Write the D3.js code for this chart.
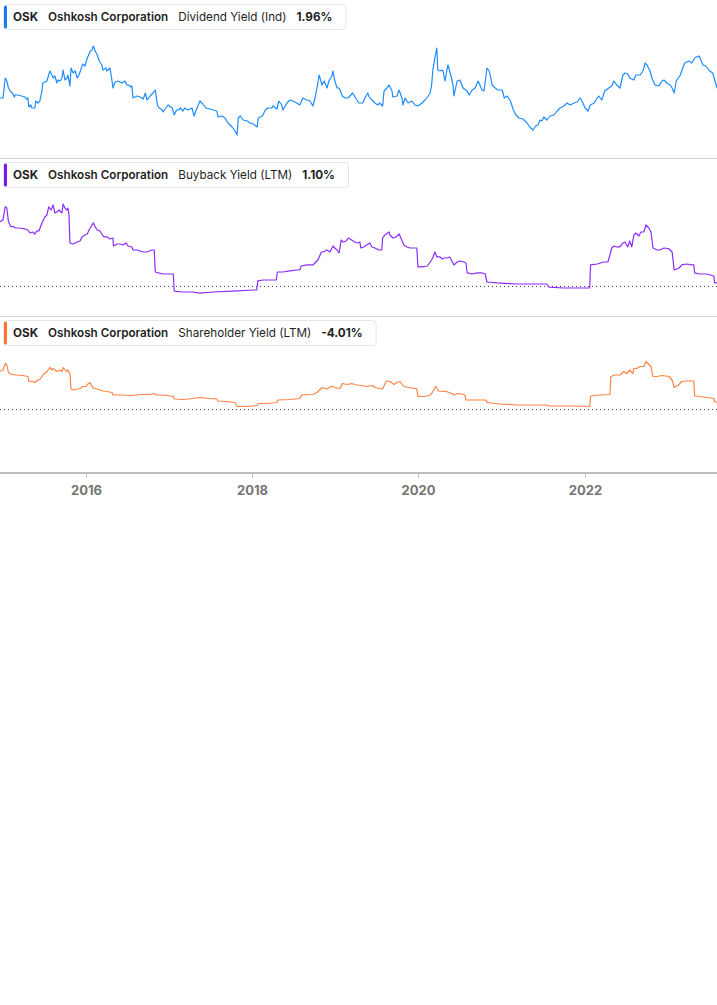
<!DOCTYPE html>
<html>
<head>
<meta charset="utf-8">
<script src="https://cdn.jsdelivr.net/npm/d3@7"></script>
<style>
  html, body { margin: 0; padding: 0; background: #fff; }
  svg { display: block; font-family: Inter, "Noto Sans", sans-serif; }
</style>
</head>
<body>
<svg id="chart" width="717" height="1005"></svg>
<script>
// date range shown on the x axis
const dateRange = ['2014-12-21', '2023-08-04'];
const tickYears = [2016, 2018, 2020, 2022];

// Dividend Yield (Ind), %
const dividendYield = [
  ['2014-12-21', 1.74], ['2015-01-03', 1.74], ['2015-01-13', 2.14], ['2015-01-20', 2.08], ['2015-01-27', 1.94],
  ['2015-02-04', 1.88], ['2015-02-16', 1.82], ['2015-02-22', 1.76], ['2015-02-26', 1.80], ['2015-03-09', 1.80],
  ['2015-03-26', 1.78], ['2015-04-09', 1.76], ['2015-04-18', 1.72], ['2015-04-22', 1.74], ['2015-04-27', 1.56],
  ['2015-05-05', 1.60], ['2015-05-10', 1.54], ['2015-05-23', 1.54], ['2015-05-27', 1.68], ['2015-06-05', 1.64],
  ['2015-06-14', 1.68], ['2015-06-23', 1.88], ['2015-06-27', 2.04], ['2015-07-15', 2.08], ['2015-07-28', 2.28],
  ['2015-08-06', 2.20], ['2015-08-11', 2.14], ['2015-08-19', 2.18], ['2015-08-28', 2.04], ['2015-09-02', 2.10],
  ['2015-09-11', 2.08], ['2015-09-19', 2.14], ['2015-09-24', 2.30], ['2015-10-02', 2.10], ['2015-10-11', 2.14],
  ['2015-10-15', 2.20], ['2015-10-24', 1.98], ['2015-10-29', 2.34], ['2015-11-07', 2.24], ['2015-11-16', 2.28],
  ['2015-11-25', 2.14], ['2015-12-03', 2.20], ['2015-12-16', 2.38], ['2015-12-20', 2.42], ['2015-12-29', 2.38],
  ['2016-01-08', 2.54], ['2016-01-12', 2.58], ['2016-01-21', 2.68], ['2016-01-29', 2.70], ['2016-02-04', 2.78],
  ['2016-02-12', 2.68], ['2016-02-21', 2.60], ['2016-02-28', 2.50], ['2016-03-12', 2.40], ['2016-03-17', 2.30],
  ['2016-03-30', 2.34], ['2016-04-04', 2.28], ['2016-04-17', 2.34], ['2016-04-26', 2.08], ['2016-04-30', 1.94],
  ['2016-05-09', 2.06], ['2016-05-22', 2.08], ['2016-06-09', 2.04], ['2016-06-22', 2.08], ['2016-06-30', 2.00],
  ['2016-07-09', 2.00], ['2016-07-18', 1.96], ['2016-07-22', 1.98], ['2016-07-27', 1.74], ['2016-08-14', 1.78],
  ['2016-08-27', 1.76], ['2016-09-10', 1.72], ['2016-09-19', 1.84], ['2016-09-27', 1.70], ['2016-10-10', 1.78],
  ['2016-10-23', 1.84], ['2016-11-02', 1.90], ['2016-11-11', 1.60], ['2016-11-19', 1.54], ['2016-12-02', 1.50],
  ['2016-12-06', 1.46], ['2016-12-15', 1.52], ['2016-12-28', 1.60], ['2017-01-15', 1.54], ['2017-01-24', 1.40],
  ['2017-02-03', 1.50], ['2017-02-11', 1.50], ['2017-02-20', 1.54], ['2017-03-03', 1.48], ['2017-03-11', 1.54],
  ['2017-03-25', 1.50], ['2017-04-12', 1.54], ['2017-04-21', 1.38], ['2017-05-04', 1.54], ['2017-05-17', 1.68],
  ['2017-05-30', 1.62], ['2017-06-12', 1.54], ['2017-06-30', 1.52], ['2017-07-13', 1.50], ['2017-07-30', 1.48],
  ['2017-08-04', 1.36], ['2017-08-22', 1.38], ['2017-09-04', 1.34], ['2017-09-17', 1.24], ['2017-10-05', 1.16],
  ['2017-10-18', 1.08], ['2017-10-27', 1.00], ['2017-11-01', 1.34], ['2017-11-10', 1.38], ['2017-11-23', 1.30],
  ['2017-12-10', 1.28], ['2017-12-23', 1.24], ['2018-01-06', 1.22], ['2018-01-23', 1.16], ['2018-01-28', 1.34],
  ['2018-02-15', 1.38], ['2018-02-28', 1.50], ['2018-03-11', 1.54], ['2018-03-28', 1.54], ['2018-04-02', 1.58],
  ['2018-04-20', 1.52], ['2018-04-28', 1.68], ['2018-05-11', 1.60], ['2018-05-16', 1.50], ['2018-06-03', 1.64],
  ['2018-06-16', 1.70], ['2018-06-29', 1.68], ['2018-07-16', 1.64], ['2018-07-29', 1.60], ['2018-08-12', 1.74],
  ['2018-08-29', 1.70], ['2018-09-12', 1.68], ['2018-09-25', 1.58], ['2018-10-04', 1.74], ['2018-10-13', 1.94],
  ['2018-10-22', 2.20], ['2018-11-04', 2.00], ['2018-11-13', 2.08], ['2018-11-26', 1.94], ['2018-12-04', 2.08],
  ['2018-12-17', 2.18], ['2018-12-22', 2.28], ['2018-12-30', 2.08], ['2019-01-09', 1.94], ['2019-01-18', 1.94],
  ['2019-02-01', 1.78], ['2019-02-14', 1.74], ['2019-02-27', 1.74], ['2019-03-10', 1.80], ['2019-03-18', 1.84],
  ['2019-04-06', 1.70], ['2019-04-15', 1.64], ['2019-05-02', 1.64], ['2019-05-11', 1.74], ['2019-05-24', 1.84],
  ['2019-05-28', 1.78], ['2019-06-11', 1.70], ['2019-06-24', 1.64], ['2019-07-07', 1.60], ['2019-07-15', 1.64],
  ['2019-07-28', 1.58], ['2019-08-03', 1.88], ['2019-08-16', 1.94], ['2019-08-25', 2.00], ['2019-09-07', 1.88],
  ['2019-09-11', 1.76], ['2019-09-29', 1.78], ['2019-10-08', 1.90], ['2019-10-21', 1.74], ['2019-10-25', 1.60],
  ['2019-11-04', 1.74], ['2019-11-17', 1.64], ['2019-12-04', 1.68], ['2019-12-17', 1.60], ['2019-12-30', 1.58],
  ['2020-01-17', 1.64], ['2020-01-30', 1.70], ['2020-02-13', 1.78], ['2020-02-22', 1.84], ['2020-02-28', 2.00],
  ['2020-03-04', 2.28], ['2020-03-13', 2.54], ['2020-03-22', 2.74], ['2020-03-26', 2.30], ['2020-04-05', 2.28],
  ['2020-04-14', 2.30], ['2020-04-18', 2.28], ['2020-04-27', 2.08], ['2020-05-05', 2.30], ['2020-05-10', 2.40],
  ['2020-05-23', 2.18], ['2020-06-01', 2.00], ['2020-06-05', 1.78], ['2020-06-19', 2.08], ['2020-07-01', 2.10],
  ['2020-07-15', 1.94], ['2020-08-02', 1.88], ['2020-08-11', 1.80], ['2020-08-24', 1.90], ['2020-09-06', 1.94],
  ['2020-09-19', 2.08], ['2020-10-07', 1.90], ['2020-10-15', 1.88], ['2020-10-28', 2.34], ['2020-11-07', 2.28],
  ['2020-11-20', 2.00], ['2020-12-03', 1.94], ['2020-12-16', 1.90], ['2021-01-03', 1.90], ['2021-01-12', 1.74],
  ['2021-01-25', 1.78], ['2021-02-08', 1.68], ['2021-02-21', 1.50], ['2021-03-04', 1.40], ['2021-03-17', 1.34],
  ['2021-04-04', 1.32], ['2021-04-22', 1.24], ['2021-05-04', 1.16], ['2021-05-18', 1.10], ['2021-05-30', 1.18],
  ['2021-06-09', 1.20], ['2021-06-18', 1.30], ['2021-06-26', 1.28], ['2021-07-05', 1.36], ['2021-07-18', 1.30],
  ['2021-08-01', 1.38], ['2021-08-18', 1.40], ['2021-09-01', 1.48], ['2021-09-14', 1.54], ['2021-10-01', 1.58],
  ['2021-10-15', 1.64], ['2021-10-28', 1.60], ['2021-11-15', 1.64], ['2021-11-28', 1.66], ['2021-12-11', 1.74],
  ['2021-12-19', 1.68], ['2022-01-02', 1.54], ['2022-01-15', 1.48], ['2022-01-24', 1.60], ['2022-02-11', 1.64],
  ['2022-02-24', 1.74], ['2022-03-03', 1.78], ['2022-03-16', 1.70], ['2022-03-29', 1.88], ['2022-04-16', 1.94],
  ['2022-04-29', 1.98], ['2022-05-08', 2.08], ['2022-05-21', 2.00], ['2022-06-04', 1.94], ['2022-06-17', 2.20],
  ['2022-06-26', 2.24], ['2022-07-08', 2.22], ['2022-07-17', 2.14], ['2022-08-04', 2.10], ['2022-08-13', 2.20],
  ['2022-09-01', 2.20], ['2022-09-13', 2.28], ['2022-09-22', 2.44], ['2022-10-01', 2.40], ['2022-10-14', 2.28],
  ['2022-10-22', 2.14], ['2022-11-05', 2.00], ['2022-11-23', 1.98], ['2022-12-05', 2.08], ['2022-12-14', 2.10],
  ['2022-12-27', 2.04], ['2023-01-10', 2.00], ['2023-01-19', 1.94], ['2023-01-28', 1.84], ['2023-02-06', 2.08],
  ['2023-02-24', 2.20], ['2023-03-02', 2.28], ['2023-03-15', 2.44], ['2023-04-02', 2.48], ['2023-04-15', 2.44],
  ['2023-04-28', 2.54], ['2023-05-16', 2.58], ['2023-05-20', 2.56], ['2023-06-03', 2.40], ['2023-06-16', 2.38],
  ['2023-07-03', 2.28], ['2023-07-16', 2.24], ['2023-07-25', 2.10], ['2023-08-04', 1.94]
];

// Buyback Yield (LTM), %
const buybackYield = [
  ['2014-12-21', 8.04], ['2015-01-03', 8.25], ['2015-01-13', 9.91], ['2015-01-20', 9.75], ['2015-01-27', 8.04],
  ['2015-02-07', 7.41], ['2015-02-19', 7.41], ['2015-02-26', 7.25], ['2015-03-17', 7.25], ['2015-04-09', 7.13],
  ['2015-04-22', 7.00], ['2015-05-01', 6.63], ['2015-05-14', 6.75], ['2015-05-23', 6.50], ['2015-06-01', 6.88],
  ['2015-06-10', 6.88], ['2015-06-23', 7.88], ['2015-07-06', 8.63], ['2015-07-15', 8.88], ['2015-07-23', 9.88],
  ['2015-08-02', 9.50], ['2015-08-11', 10.13], ['2015-08-19', 9.13], ['2015-08-28', 9.25], ['2015-09-06', 9.50],
  ['2015-09-19', 9.13], ['2015-09-24', 10.25], ['2015-10-02', 9.75], ['2015-10-11', 9.50], ['2015-10-15', 9.75],
  ['2015-10-20', 8.88], ['2015-10-24', 5.38], ['2015-11-07', 5.25], ['2015-11-25', 5.50], ['2015-12-07', 5.63],
  ['2015-12-16', 6.13], ['2015-12-29', 6.38], ['2016-01-08', 6.50], ['2016-01-16', 7.00], ['2016-01-29', 7.63],
  ['2016-02-04', 7.88], ['2016-02-12', 7.38], ['2016-02-21', 7.00], ['2016-03-04', 6.88], ['2016-03-12', 6.50],
  ['2016-03-21', 6.13], ['2016-04-04', 6.13], ['2016-04-17', 5.88], ['2016-04-30', 6.00], ['2016-05-02', 5.00],
  ['2016-05-18', 5.25], ['2016-05-30', 5.25], ['2016-06-13', 5.13], ['2016-06-26', 5.38], ['2016-07-05', 5.00],
  ['2016-07-22', 4.88], ['2016-07-27', 4.50], ['2016-08-14', 4.50], ['2016-08-27', 4.38], ['2016-09-10', 4.25],
  ['2016-09-27', 4.25], ['2016-10-06', 4.38], ['2016-10-19', 4.50], ['2016-10-28', 4.50], ['2016-11-02', 1.75],
  ['2016-11-15', 1.63], ['2016-12-06', 1.50], ['2017-01-07', 1.50], ['2017-01-20', 1.50], ['2017-01-24', -0.63],
  ['2017-03-03', -0.75], ['2017-04-16', -0.75], ['2017-05-17', -0.88], ['2017-07-13', -0.75], ['2017-10-09', -0.63],
  ['2018-01-06', -0.50], ['2018-01-21', -0.50], ['2018-01-26', 0.63], ['2018-02-19', 0.75], ['2018-03-19', 0.75],
  ['2018-04-17', 0.75], ['2018-04-22', 1.75], ['2018-05-16', 1.75], ['2018-06-16', 1.88], ['2018-07-16', 2.00],
  ['2018-07-29', 2.00], ['2018-08-04', 2.50], ['2018-08-29', 2.63], ['2018-09-25', 2.63], ['2018-10-08', 3.00],
  ['2018-10-17', 3.25], ['2018-11-01', 4.25], ['2018-11-09', 4.25], ['2018-11-26', 4.50], ['2018-12-09', 4.25],
  ['2018-12-22', 5.00], ['2018-12-30', 4.75], ['2019-01-09', 4.50], ['2019-01-18', 4.13], ['2019-01-27', 5.75],
  ['2019-02-05', 5.50], ['2019-02-18', 5.63], ['2019-02-27', 6.00], ['2019-03-14', 5.75], ['2019-03-27', 5.50],
  ['2019-04-10', 5.38], ['2019-04-19', 5.50], ['2019-04-23', 4.75], ['2019-05-06', 4.88], ['2019-05-19', 5.13],
  ['2019-06-02', 5.38], ['2019-06-11', 4.88], ['2019-06-24', 4.75], ['2019-07-11', 4.50], ['2019-07-24', 4.50],
  ['2019-07-28', 6.00], ['2019-08-07', 6.38], ['2019-08-25', 6.75], ['2019-08-29', 6.38], ['2019-09-11', 6.00],
  ['2019-09-25', 6.13], ['2019-10-08', 6.50], ['2019-10-16', 6.00], ['2019-10-29', 5.13], ['2019-11-12', 4.88],
  ['2019-11-25', 4.75], ['2019-12-12', 4.75], ['2019-12-25', 4.75], ['2019-12-30', 2.38], ['2020-01-17', 2.38],
  ['2020-02-09', 2.50], ['2020-02-22', 3.00], ['2020-03-04', 3.50], ['2020-03-13', 4.25], ['2020-03-22', 3.63],
  ['2020-04-05', 3.63], ['2020-04-14', 3.38], ['2020-04-22', 3.50], ['2020-05-05', 3.50], ['2020-05-18', 3.63],
  ['2020-05-27', 3.13], ['2020-06-05', 2.63], ['2020-06-19', 3.00], ['2020-07-01', 3.13], ['2020-07-19', 3.00],
  ['2020-07-28', 2.88], ['2020-08-02', 1.63], ['2020-08-24', 1.50], ['2020-09-15', 1.63], ['2020-10-07', 1.63],
  ['2020-10-20', 1.50], ['2020-10-28', 0.50], ['2020-12-11', 0.38], ['2021-03-08', 0.25], ['2021-06-04', 0.25],
  ['2021-07-18', 0.25], ['2021-07-27', -0.13], ['2021-10-01', -0.25], ['2021-11-28', -0.25], ['2022-01-22', -0.25],
  ['2022-01-26', 2.63], ['2022-02-24', 2.75], ['2022-03-25', 3.00], ['2022-04-12', 3.00], ['2022-04-21', 3.88],
  ['2022-04-29', 4.75], ['2022-05-08', 5.00], ['2022-05-21', 4.88], ['2022-06-04', 4.88], ['2022-06-17', 5.38],
  ['2022-06-26', 5.50], ['2022-07-08', 4.88], ['2022-07-17', 5.63], ['2022-07-26', 4.88], ['2022-08-04', 6.38],
  ['2022-08-13', 6.63], ['2022-08-26', 6.25], ['2022-09-04', 6.75], ['2022-09-17', 6.75], ['2022-09-26', 7.63],
  ['2022-10-09', 7.25], ['2022-10-18', 6.75], ['2022-10-27', 4.75], ['2022-11-14', 4.50], ['2022-11-27', 4.50],
  ['2022-12-14', 4.75], ['2023-01-06', 4.63], ['2023-01-19', 4.25], ['2023-01-28', 2.00], ['2023-02-19', 2.25],
  ['2023-03-02', 2.63], ['2023-03-24', 2.75], ['2023-04-15', 2.63], ['2023-04-24', 2.63], ['2023-04-28', 1.63],
  ['2023-05-20', 1.50], ['2023-06-20', 1.50], ['2023-07-21', 1.25], ['2023-07-25', 0.38], ['2023-08-04', 0.38]
];

// Shareholder Yield (LTM), %
const shareholderYield = [
  ['2014-12-21', 7.5], ['2015-01-03', 7.8], ['2015-01-13', 9.1], ['2015-01-20', 8.8], ['2015-01-27', 7.3],
  ['2015-02-12', 6.9], ['2015-03-03', 6.8], ['2015-03-31', 6.7], ['2015-04-22', 6.5], ['2015-04-27', 5.5],
  ['2015-05-14', 5.5], ['2015-05-23', 5.3], ['2015-06-05', 5.8], ['2015-06-14', 5.9], ['2015-06-27', 6.8],
  ['2015-07-15', 7.5], ['2015-07-28', 8.3], ['2015-08-06', 7.8], ['2015-08-11', 8.1], ['2015-08-28', 7.5],
  ['2015-09-11', 7.8], ['2015-09-19', 7.5], ['2015-09-24', 8.3], ['2015-10-02', 7.8], ['2015-10-11', 7.5],
  ['2015-10-15', 7.8], ['2015-10-24', 7.1], ['2015-10-29', 4.0], ['2015-11-07', 3.8], ['2015-11-25', 4.0],
  ['2015-12-07', 4.1], ['2015-12-20', 4.5], ['2016-01-03', 4.5], ['2016-01-08', 4.9], ['2016-01-21', 5.3],
  ['2016-01-29', 4.5], ['2016-02-08', 4.1], ['2016-02-21', 4.0], ['2016-03-04', 3.8], ['2016-03-17', 3.6],
  ['2016-04-04', 3.5], ['2016-04-26', 3.3], ['2016-04-30', 2.8], ['2016-05-18', 2.8], ['2016-06-13', 2.8],
  ['2016-07-14', 2.7], ['2016-08-14', 2.8], ['2016-09-10', 2.9], ['2016-10-10', 2.9], ['2016-10-28', 3.1],
  ['2016-11-06', 2.8], ['2016-11-23', 2.8], ['2016-12-24', 2.7], ['2017-01-20', 2.5], ['2017-01-24', 2.0],
  ['2017-03-03', 1.9], ['2017-04-16', 2.1], ['2017-05-17', 2.3], ['2017-06-30', 2.1], ['2017-07-30', 2.0],
  ['2017-08-04', 1.6], ['2017-09-13', 1.5], ['2017-10-18', 1.3], ['2017-10-27', 0.5], ['2017-12-10', 0.5],
  ['2018-01-23', 0.7], ['2018-01-28', 1.1], ['2018-03-06', 1.1], ['2018-04-20', 1.3], ['2018-04-24', 1.8],
  ['2018-06-16', 1.9], ['2018-07-29', 2.1], ['2018-08-07', 2.8], ['2018-09-25', 2.9], ['2018-10-13', 3.3],
  ['2018-11-04', 4.3], ['2018-11-26', 4.0], ['2018-12-17', 4.6], ['2018-12-30', 4.3], ['2019-01-22', 4.1],
  ['2019-02-01', 5.1], ['2019-02-23', 4.9], ['2019-03-14', 5.1], ['2019-04-06', 4.8], ['2019-04-28', 4.7],
  ['2019-05-19', 4.5], ['2019-06-15', 4.7], ['2019-06-24', 4.3], ['2019-07-15', 4.1], ['2019-07-28', 4.0],
  ['2019-08-12', 5.5], ['2019-08-16', 5.6], ['2019-08-29', 5.5], ['2019-09-16', 4.9], ['2019-09-29', 5.3],
  ['2019-10-12', 5.5], ['2019-10-29', 4.5], ['2019-11-21', 4.3], ['2019-12-12', 4.1], ['2019-12-25', 4.1],
  ['2019-12-30', 2.5], ['2020-01-26', 2.5], ['2020-02-17', 2.7], ['2020-02-28', 3.1], ['2020-03-17', 4.5],
  ['2020-03-30', 3.6], ['2020-04-14', 3.5], ['2020-04-27', 3.6], ['2020-05-14', 3.3], ['2020-05-27', 3.1],
  ['2020-06-05', 2.8], ['2020-06-19', 3.1], ['2020-07-10', 3.0], ['2020-07-23', 2.8], ['2020-07-28', 1.8],
  ['2020-09-02', 1.8], ['2020-09-28', 1.8], ['2020-10-24', 1.8], ['2020-10-28', 1.3], ['2020-12-25', 1.0],
  ['2021-03-08', 0.8], ['2021-07-18', 0.8], ['2021-07-27', 0.6], ['2021-10-28', 0.6], ['2022-01-22', 0.5],
  ['2022-01-26', 2.6], ['2022-03-07', 2.8], ['2022-04-21', 2.9], ['2022-04-25', 6.5], ['2022-05-12', 6.8],
  ['2022-06-04', 6.8], ['2022-06-21', 7.5], ['2022-07-04', 7.1], ['2022-07-17', 7.8], ['2022-07-30', 7.1],
  ['2022-08-04', 8.1], ['2022-08-17', 8.1], ['2022-08-30', 8.5], ['2022-09-17', 8.5], ['2022-09-26', 9.5],
  ['2022-10-09', 8.9], ['2022-10-18', 8.5], ['2022-10-27', 6.5], ['2022-11-14', 6.5], ['2022-12-05', 6.7],
  ['2023-01-06', 6.5], ['2023-01-19', 5.8], ['2023-01-28', 4.3], ['2023-02-15', 4.8], ['2023-03-02', 5.5],
  ['2023-03-24', 5.6], ['2023-04-24', 5.6], ['2023-04-28', 2.6], ['2023-05-20', 2.5], ['2023-06-20', 2.3],
  ['2023-07-21', 2.1], ['2023-07-25', 1.5], ['2023-08-04', 1.3]
];

const ticker = 'OSK';
const company = 'Oshkosh Corporation';
const metricNames = ['Dividend Yield (Ind)', 'Buyback Yield (LTM)', 'Shareholder Yield (LTM)'];
const latestValues = ['1.96%', '1.10%', '-4.01%'];

const width = 717;
const parseDate = d3.timeParse('%Y-%m-%d');
const svg = d3.select('#chart');

const x = d3.scaleTime()
  .domain(dateRange.map(parseDate))
  .range([0, width]);

// one entry per stacked panel
const panels = [
  { data: dividendYield, line: '#1e8cff', accent: '#1a7ef2', top: 0,
    y: d3.scaleLinear().domain([0, 3]).range([185, 35]), zero: false },
  { data: buybackYield, line: '#8c2cff', accent: '#7b14f0', top: 158,
    y: d3.scaleLinear().domain([0, 10]).range([286, 206]), zero: true },
  { data: shareholderYield, line: '#ff8445', accent: '#ff7433', top: 316,
    y: d3.scaleLinear().domain([0, 10]).range([409, 359]), zero: true }
];

panels.forEach((p, i) => {
  const g = svg.append('g').attr('class', 'panel');

  if (i > 0) {
    g.append('line')
      .attr('x1', 0).attr('x2', width)
      .attr('y1', p.top + 0.5).attr('y2', p.top + 0.5)
      .attr('stroke', '#cfcfcf');
  }

  if (p.zero) {
    g.append('line')
      .attr('x1', 0).attr('x2', width)
      .attr('y1', p.y(0) + 0.5).attr('y2', p.y(0) + 0.5)
      .attr('stroke', '#444')
      .attr('stroke-dasharray', '1,3');
  }

  const line = d3.line()
    .x((d) => x(parseDate(d[0])))
    .y((d) => p.y(d[1]));

  g.append('path')
    .datum(p.data)
    .attr('fill', 'none')
    .attr('stroke', p.line)
    .attr('stroke-width', 1.2)
    .attr('stroke-linejoin', 'round')
    .attr('d', line);

  // legend chip
  const lg = g.append('g').attr('transform', `translate(3,${p.top + 4})`);
  const box = lg.append('rect')
    .attr('x', 0.5).attr('y', 0.5)
    .attr('height', 25)
    .attr('rx', 3)
    .attr('fill', '#fff')
    .attr('stroke', '#e6e6e6');
  lg.append('rect')
    .attr('x', 1).attr('y', 1.5)
    .attr('width', 3).attr('height', 23)
    .attr('rx', 1.5)
    .attr('fill', p.accent);

  const parts = [
    { text: ticker, weight: 700 },
    { text: company, weight: 600 },
    { text: metricNames[i], weight: 400 },
    { text: latestValues[i], weight: 700 }
  ];
  let cx = 10;
  parts.forEach((part) => {
    const t = lg.append('text')
      .attr('x', cx).attr('y', 17)
      .attr('font-size', 11.7)
      .attr('font-weight', part.weight)
      .attr('fill', '#1f1f1f')
      .text(part.text);
    cx += t.node().getComputedTextLength() + 10;
  });
  box.attr('width', cx + 3);
});

// x axis
const axisY = 473;
const axis = svg.append('g').attr('transform', `translate(0,${axisY})`);
axis.append('line')
  .attr('x1', 0).attr('x2', width)
  .attr('y1', 0).attr('y2', 0)
  .attr('stroke', '#bdbdbd')
  .attr('stroke-width', 2);

const ticks = axis.selectAll('g.tick')
  .data(tickYears.map((yr) => new Date(yr, 0, 1)))
  .enter()
  .append('g')
  .attr('class', 'tick')
  .attr('transform', (d) => `translate(${Math.round(x(d)) + 0.5},0)`);
ticks.append('line')
  .attr('y1', 0).attr('y2', 5)
  .attr('stroke', '#bdbdbd');
ticks.append('text')
  .attr('y', 22)
  .attr('text-anchor', 'middle')
  .attr('font-size', 13)
  .attr('font-weight', 700)
  .attr('fill', '#757575')
  .text((d) => d3.timeFormat('%Y')(d));
</script>
</body>
</html>
